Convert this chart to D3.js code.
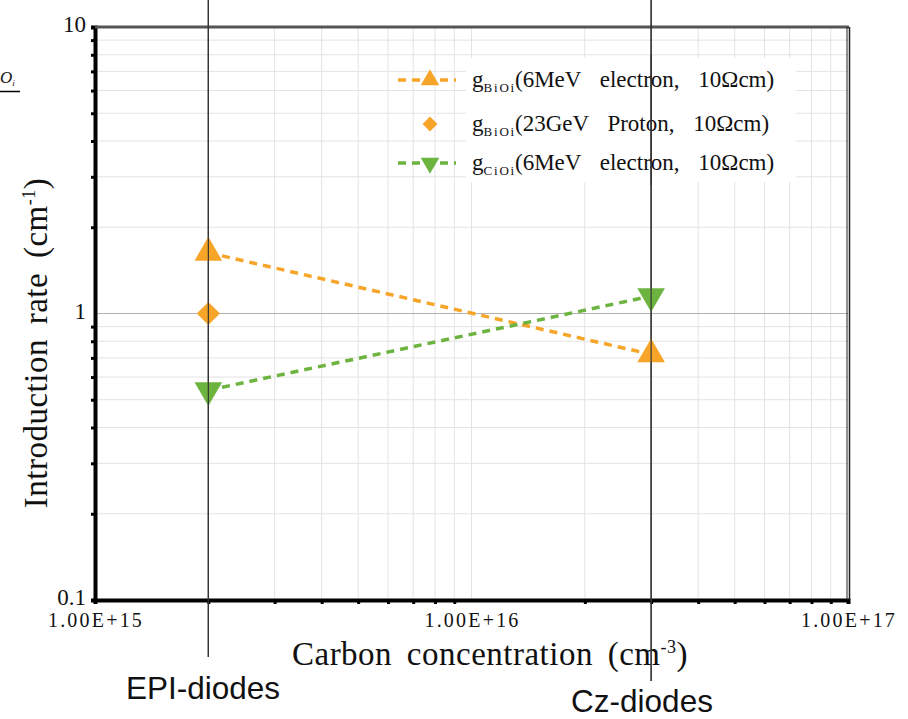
<!DOCTYPE html>
<html><head><meta charset="utf-8">
<script src="https://cdn.jsdelivr.net/npm/d3@7"></script>
<style>body{margin:0;background:#fff}svg{display:block}</style>
</head><body>
<svg id="c" width="908" height="719"></svg>
<script>
const categories = ["EPI-diodes", "Cz-diodes"];
const carbon = [2e15, 3e16];
const gBiOiElectron = [1.63, 0.72];
const gBiOiProton = [1.0];
const gCiOiElectron = [0.54, 1.15];
const xTickLabels = ["1.00E+15", "1.00E+16", "1.00E+17"];
const yTickLabels = ["0.1", "1", "10"];
const legendLabels = [
  {sub: "BiOi", rest: "(6MeV electron, 10Ωcm)"},
  {sub: "BiOi", rest: "(23GeV Proton, 10Ωcm)"},
  {sub: "CiOi", rest: "(6MeV electron, 10Ωcm)"}
];
const orange = "#F7A529", green = "#6DB33F";
const serif = "'Liberation Serif','Times New Roman',serif";
const sans = "'Liberation Sans',Arial,sans-serif";

const svg = d3.select("#c");
const L = 95, R = 848, T = 27, B = 600;
const x = d3.scaleLog().domain([1e15, 1e17]).range([L, R]);
const y = d3.scaleLog().domain([0.1, 10]).range([B, T]);

const xMinor = [], yMinor = [];
[1e15, 1e16].forEach(d => { for (let k = 2; k <= 9; k++) xMinor.push(d * k); });
[0.1, 1].forEach(d => { for (let k = 2; k <= 9; k++) yMinor.push(d * k); });

// grid
const g = svg.append("g");
g.selectAll(".vg").data(xMinor.concat([1e16])).join("line")
  .attr("x1", d => x(d)).attr("x2", d => x(d)).attr("y1", T).attr("y2", B)
  .attr("stroke", "#e3e3e3").attr("stroke-width", 1);
g.selectAll(".hg").data(yMinor).join("line")
  .attr("x1", L).attr("x2", R).attr("y1", d => y(d)).attr("y2", d => y(d))
  .attr("stroke", "#e3e3e3").attr("stroke-width", 1);
g.append("line").attr("x1", L).attr("x2", R).attr("y1", y(1)).attr("y2", y(1))
  .attr("stroke", "#b0b0b0").attr("stroke-width", 1);

// axes
const xAxis = d3.axisBottom(x).tickValues([1e15].concat(xMinor, [1e17])).tickSize(4).tickFormat("");
const yAxis = d3.axisLeft(y).tickValues([0.1].concat(yMinor, [10])).tickSize(4).tickFormat("");
const gx = svg.append("g").attr("transform", `translate(0,${B})`).call(xAxis);
const gy = svg.append("g").attr("transform", `translate(${L},0)`).call(yAxis);
[gx, gy].forEach(a => {
  a.select(".domain").attr("stroke", "#000").attr("stroke-width", 4);
  a.selectAll(".tick line").attr("stroke", "#000").attr("stroke-width", 3);
});
svg.append("line").attr("x1", L).attr("x2", R + 1).attr("y1", T).attr("y2", T).attr("stroke", "#555").attr("stroke-width", 3);
svg.append("line").attr("x1", R - 1).attr("x2", R - 1).attr("y1", T).attr("y2", B).attr("stroke", "#222").attr("stroke-width", 1);
svg.append("line").attr("x1", R + 1.5).attr("x2", R + 1.5).attr("y1", T).attr("y2", B).attr("stroke", "#222").attr("stroke-width", 1.5);

// tick labels
svg.selectAll(".xl").data([1e15, 1e16, 1e17]).join("text")
  .attr("x", d => x(d) + 1).attr("y", 627).attr("text-anchor", "middle")
  .attr("font-family", serif).attr("font-size", 20).attr("letter-spacing", 2.2).attr("fill", "#111")
  .text((d, i) => xTickLabels[i]);
svg.selectAll(".yl").data([0.1, 1, 10]).join("text")
  .attr("x", 86).attr("y", d => y(d) + 5).attr("text-anchor", "end")
  .attr("font-family", serif).attr("font-size", 23).attr("fill", "#111")
  .text((d, i) => yTickLabels[i]);

// axis titles
const xt = svg.append("text").attr("x", 490).attr("y", 665).attr("text-anchor", "middle")
  .attr("font-family", serif).attr("font-size", 33).attr("letter-spacing", 0.5)
  .attr("word-spacing", 6).attr("fill", "#111");
xt.append("tspan").text("Carbon concentration (cm");
xt.append("tspan").attr("dy", -12).attr("font-size", 18).text("-3");
xt.append("tspan").attr("dy", 12).text(")");
const yt = svg.append("text").attr("transform", "translate(47,343) rotate(-90)").attr("text-anchor", "middle")
  .attr("font-family", serif).attr("font-size", 33).attr("letter-spacing", 0.5)
  .attr("word-spacing", 6).attr("fill", "#111");
yt.append("tspan").text("Introduction rate (cm");
yt.append("tspan").attr("dy", -12).attr("font-size", 18).text("-1");
yt.append("tspan").attr("dy", 12).text(")");

// cropped fragment top-left
const fr = svg.append("text").attr("x", 0).attr("y", 83).attr("font-family", serif)
  .attr("font-style", "italic").attr("font-size", 17).attr("fill", "#111");
fr.append("tspan").text("O");
fr.append("tspan").attr("dy", 3).attr("font-size", 9).text("i");
svg.append("line").attr("x1", 0).attr("x2", 20).attr("y1", 91.5).attr("y2", 91.5).attr("stroke", "#000").attr("stroke-width", 1.5);

// legend background
svg.append("rect").attr("x", 466).attr("y", 58).attr("width", 330).attr("height", 124).attr("fill", "#fff");

// category vertical lines
const catBottom = [657, 681];
svg.selectAll(".cl").data(carbon).join("line")
  .attr("x1", d => x(d)).attr("x2", d => x(d)).attr("y1", 0).attr("y2", (d, i) => catBottom[i])
  .attr("stroke", "#333").attr("stroke-width", 1.2);

// series lines
const line = d3.line().x((d, i) => x(carbon[i])).y(d => y(d));
svg.append("path").attr("d", line(gBiOiElectron)).attr("fill", "none").attr("stroke", orange)
  .attr("stroke-width", 3.5).attr("stroke-dasharray", "8,6");
svg.append("path").attr("d", line(gCiOiElectron)).attr("fill", "none").attr("stroke", green)
  .attr("stroke-width", 3.5).attr("stroke-dasharray", "8,6");

// markers
const triUp = d3.symbol().type(d3.symbolTriangle).size(330);
const diamond = d3.symbol().type(d3.symbolSquare).size(270);
svg.selectAll(".tu").data(gBiOiElectron).join("path")
  .attr("d", triUp).attr("fill", orange)
  .attr("transform", (d, i) => `translate(${x(carbon[i])},${y(d)})`);
svg.selectAll(".dm").data(gBiOiProton).join("path")
  .attr("d", diamond).attr("fill", orange)
  .attr("transform", (d, i) => `translate(${x(carbon[i])},${y(d)}) rotate(45)`);
svg.selectAll(".td").data(gCiOiElectron).join("path")
  .attr("d", triUp).attr("fill", green)
  .attr("transform", (d, i) => `translate(${x(carbon[i])},${y(d)}) rotate(180)`);
svg.selectAll(".cl2").data(carbon).join("line")
  .attr("x1", d => x(d)).attr("x2", d => x(d)).attr("y1", 0).attr("y2", (d, i) => catBottom[i])
  .attr("stroke", "#333").attr("stroke-width", 1.2);

// legend
const legY = [80, 124, 163];
const legColors = [orange, orange, green];
legendLabels.forEach((lab, i) => {
  const cy = legY[i];
  if (i !== 1) {
    svg.append("line").attr("x1", 398).attr("x2", 456).attr("y1", cy).attr("y2", cy)
      .attr("stroke", legColors[i]).attr("stroke-width", 3.5).attr("stroke-dasharray", "8,6");
  }
  const sym = i === 1 ? d3.symbol().type(d3.symbolSquare).size(110) : d3.symbol().type(d3.symbolTriangle).size(150);
  svg.append("path").attr("d", sym).attr("fill", legColors[i])
    .attr("transform", `translate(430,${cy}) rotate(${i === 1 ? 45 : i === 2 ? 180 : 0})`);
  const t = svg.append("text").attr("x", 472).attr("y", cy + 7).attr("font-family", serif)
    .attr("font-size", 23).attr("word-spacing", 13).attr("fill", "#111");
  t.append("tspan").text("g");
  t.append("tspan").attr("dy", 5).attr("font-size", 13).attr("letter-spacing", 1.8).text(lab.sub);
  t.append("tspan").attr("dy", -5).attr("dx", -1).text(lab.rest);
});
svg.append("line").attr("x1", x(carbon[1])).attr("x2", x(carbon[1])).attr("y1", 55).attr("y2", 185)
  .attr("stroke", "#333").attr("stroke-width", 1.2);

// category labels
const catPos = [[203, 699], [642, 712]];
svg.selectAll(".ct").data(categories).join("text")
  .attr("x", (d, i) => catPos[i][0]).attr("y", (d, i) => catPos[i][1])
  .attr("text-anchor", "middle").attr("font-family", sans).attr("font-size", 31.5).attr("fill", "#111")
  .text(d => d);
</script>
</body></html>
